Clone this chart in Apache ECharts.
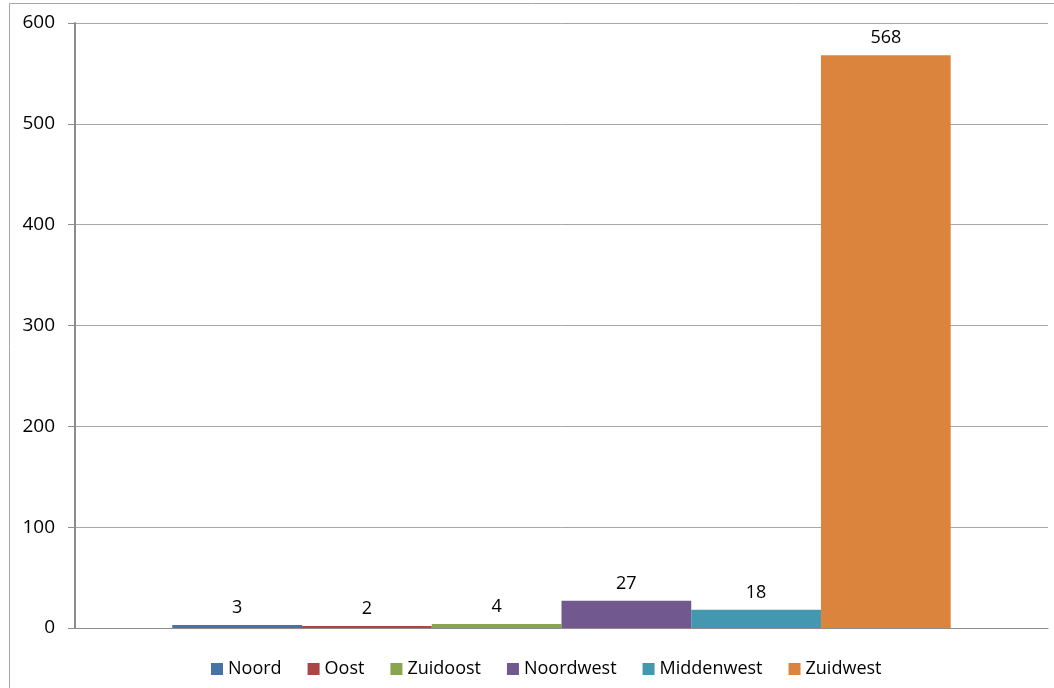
<!DOCTYPE html>
<html>
<head>
<meta charset="utf-8">
<script src="https://cdn.jsdelivr.net/npm/echarts@6/dist/echarts.min.js"></script>
<style>
  html, body { margin: 0; padding: 0; background: #fff; }
  #chart { width: 1054px; height: 688px; }
</style>
</head>
<body>
<div id="chart"></div>
<script>
// regio's en waarden
const regions = ['Noord', 'Oost', 'Zuidoost', 'Noordwest', 'Middenwest', 'Zuidwest'];
const values = [3, 2, 4, 27, 18, 568];
const colors = ['#4572A7', '#AA4643', '#89A54E', '#71588F', '#4198AF', '#DB843D'];
const yTicks = [0, 100, 200, 300, 400, 500, 600];

const font = '"Open Sans", "Noto Sans", sans-serif';
let myChart = echarts.init(document.querySelector('#chart'));

myChart.setOption({
    animation: false,
    textStyle: { fontFamily: font },
    graphic: [{
        type: 'rect',
        shape: { x: 9.5, y: 3.5, width: 1100, height: 700 },
        style: { fill: 'none', stroke: '#a6a6a6', lineWidth: 1 },
        silent: true
    }],
    grid: { left: 75, right: 6, top: 23, bottom: 60 },
    legend: {
        bottom: 5,
        left: 206,
        itemWidth: 12,
        itemHeight: 12,
        itemGap: 26,
        icon: 'rect',
        textStyle: { fontSize: 18, color: '#000', fontFamily: font },
        data: regions
    },
    xAxis: {
        type: 'category',
        data: [''],
        axisLine: { lineStyle: { color: '#8c8c8c' } },
        axisTick: { show: false },
        axisLabel: { show: false }
    },
    yAxis: {
        type: 'value',
        min: 0,
        max: 600,
        interval: 100,
        axisLine: { show: true, lineStyle: { color: '#8c8c8c', width: 2 } },
        axisTick: { show: true, length: 7, lineStyle: { color: '#8c8c8c' } },
        axisLabel: {
            fontSize: 19, color: '#000', margin: 20,
            formatter: v => yTicks.includes(v) ? String(v) : ''
        },
        splitLine: { lineStyle: { color: '#a6a6a6' } }
    },
    series: regions.map((name, i) => ({
        name: name,
        type: 'bar',
        data: [values[i]],
        barGap: '0%',
        barCategoryGap: '20%',
        itemStyle: { color: colors[i] },
        label: {
            show: true, position: 'top', distance: 8,
            fontSize: 18, color: '#000', fontFamily: font
        }
    }))
});
</script>
</body>
</html>
